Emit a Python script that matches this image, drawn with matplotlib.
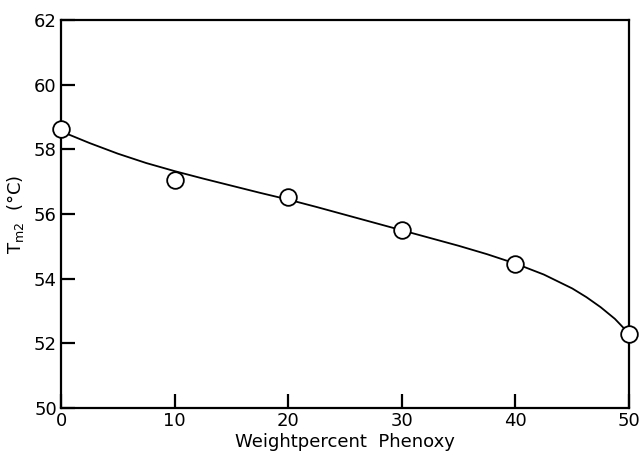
import matplotlib
matplotlib.use("Agg")
import matplotlib.pyplot as plt

plt.rcParams['font.family'] = ['Liberation Sans Narrow', 'DejaVu Sans']

# measured points
wt_phenoxy = [0, 10, 20, 30, 40, 50]
tm2 = [58.62, 57.07, 56.52, 55.5, 54.45, 52.3]

# hand-drawn trend curve
curve_x = [0, 2.5, 5, 7.5, 10, 12.5, 15, 17.5, 20, 22.5, 25, 27.5, 30,
           32.5, 35, 37.5, 40, 42.5, 45, 46.25, 47.5, 48.75, 50]
curve_y = [58.56, 58.20, 57.87, 57.58, 57.33, 57.10, 56.88, 56.66, 56.45,
           56.22, 55.98, 55.74, 55.50, 55.26, 55.02, 54.76, 54.47, 54.13,
           53.70, 53.43, 53.12, 52.76, 52.30]

x_ticks = [0, 10, 20, 30, 40, 50]
y_ticks = [50, 52, 54, 56, 58, 60, 62]

fig = plt.figure(figsize=(6.39, 4.58), dpi=100)
ax = fig.add_axes([0.0955, 0.109, 0.889, 0.847])

ax.plot(curve_x, curve_y, color='black', lw=1.3, clip_on=False,
        solid_joinstyle='round')
ax.plot(wt_phenoxy, tm2, 'o', ms=12, mfc='white', mec='black', mew=1.3,
        clip_on=False, zorder=5)

ax.set_xlim(0, 50)
ax.set_ylim(50, 62)
ax.set_xticks(x_ticks)
ax.set_yticks(y_ticks)
ax.tick_params(direction='in', length=10, width=1.6, labelsize=13, pad=3,
               top=False, right=False)
for s in ax.spines.values():
    s.set_linewidth(1.6)

ax.set_xlabel('Weightpercent  Phenoxy', fontsize=13, labelpad=2)
ax.set_ylabel(r'T$_{\mathregular{m2}}$  (°C)', fontsize=13, labelpad=6)

fig.savefig('out.png', dpi=100)
